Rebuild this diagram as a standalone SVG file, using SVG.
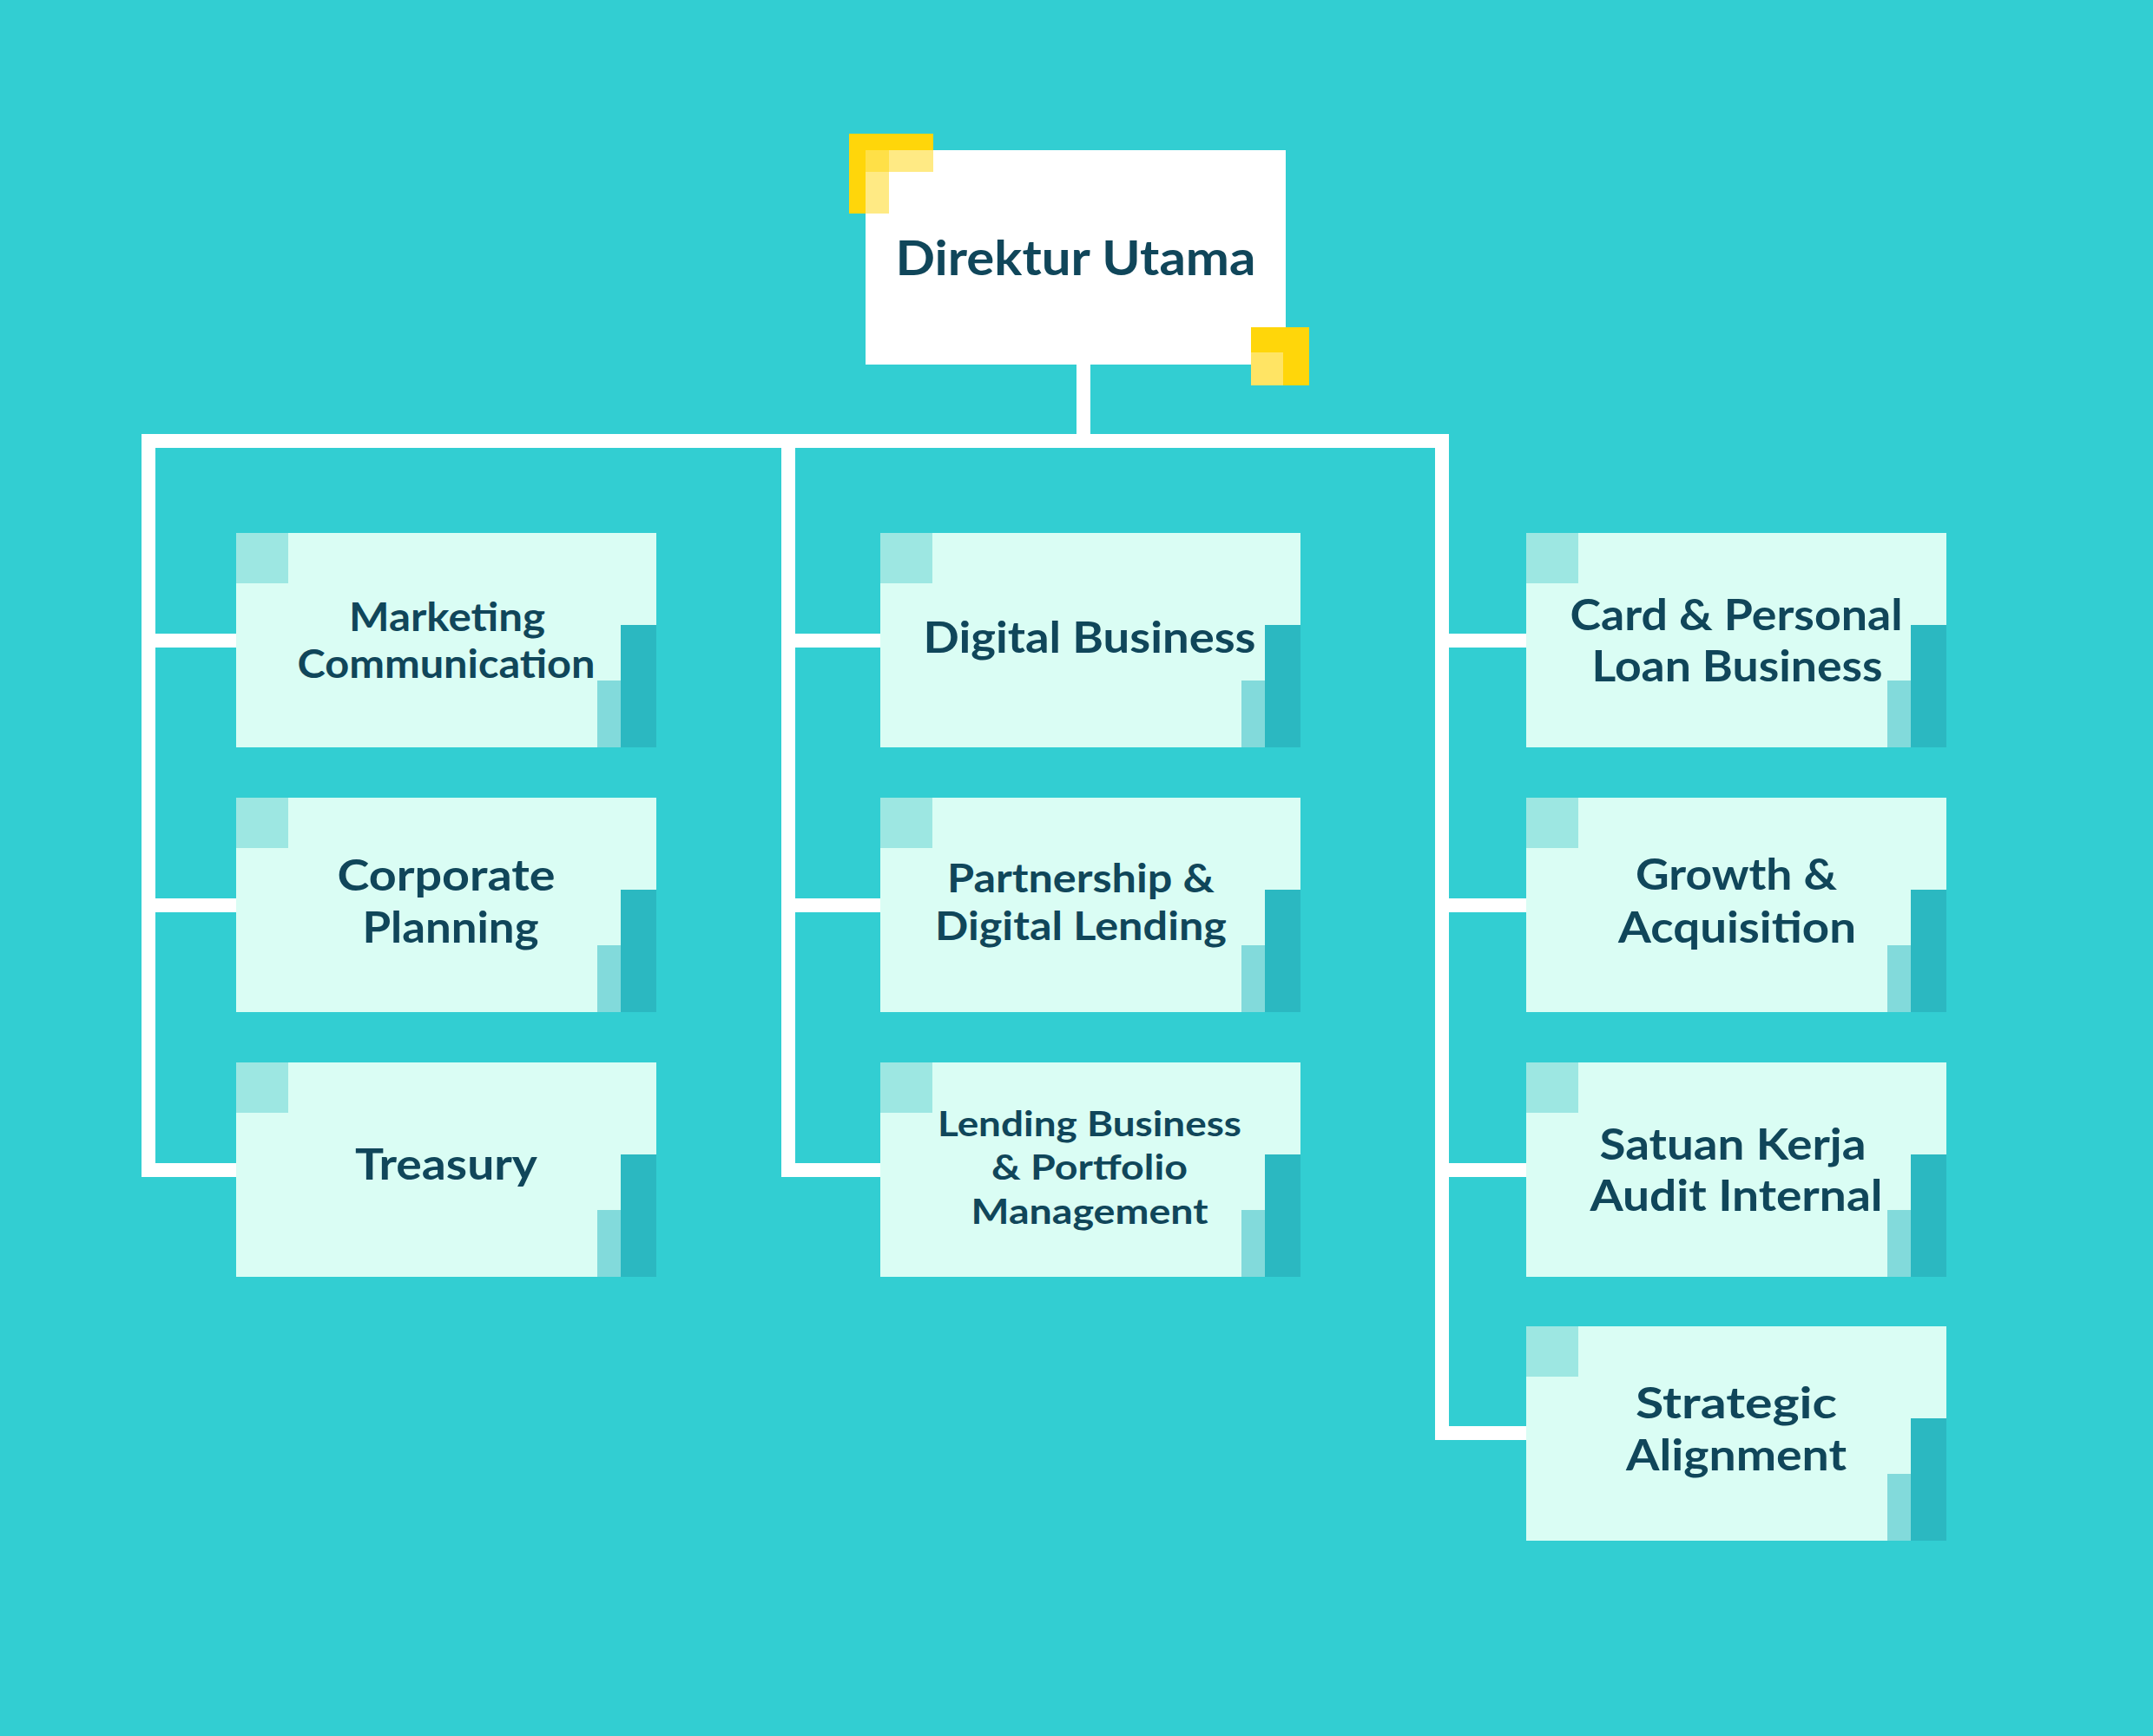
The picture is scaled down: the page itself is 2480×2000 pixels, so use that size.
<svg xmlns="http://www.w3.org/2000/svg" width="2480" height="2000" viewBox="0 0 2480 2000">
<style>
.bg{fill:#32CED2}
.box{fill:#DAFDF4}
.sq{fill:#9DE7E2}
.dk{fill:#2BB8C1}
.lt{fill:#82DADB}
.conn{fill:none;stroke:#FFFFFF;stroke-width:16;stroke-linejoin:miter;stroke-linecap:butt}
.t{font-family:Lato,"Noto Sans","Liberation Sans",sans-serif;font-weight:700;fill:#10465A;text-anchor:middle}
.ty{fill:#FFD60A}
.tyl{fill:#FFD60A;fill-opacity:0.5}
.tyb{fill:#FFE464}
</style>
<defs>
<g id="deco">
<rect class="box" x="0" y="0" width="484" height="247"/>
<rect class="sq" x="0" y="0" width="60" height="58"/>
<rect class="dk" x="443" y="106" width="41" height="141"/>
<rect class="lt" x="416" y="170" width="27" height="77"/>
</g>
</defs>
<rect class="bg" x="0" y="0" width="2480" height="2000"/>

<g id="connectors">
<path class="conn" d="M1248 420 V508"/>
<path class="conn" d="M272 1348 H171 V508 H1661 V1651 H1758"/>
<path class="conn" d="M171 738 H272 M171 1043 H272"/>
<path class="conn" d="M908 508 V1348 H1014 M908 738 H1014 M908 1043 H1014"/>
<path class="conn" d="M1661 738 H1758 M1661 1043 H1758 M1661 1348 H1758"/>
</g>

<g id="direktur-utama">
<rect x="997" y="173" width="484" height="247" fill="#FFFFFF"/>
<rect class="ty" x="978" y="154" width="97" height="19"/>
<rect class="ty" x="978" y="173" width="19" height="73"/>
<rect class="tyl" x="997" y="173" width="78" height="25"/>
<rect class="tyl" x="997" y="173" width="27" height="73"/>
<rect class="ty" x="1441" y="377" width="67" height="67"/>
<rect class="tyb" x="1441" y="406" width="37" height="38"/>
<text class="t" x="1239" y="317" font-size="56" textLength="415" lengthAdjust="spacingAndGlyphs">Direktur Utama</text>
</g>

<g id="marketing-communication">
<use href="#deco" x="272" y="614"/>
<text class="t" x="515" y="727" font-size="45" textLength="226" lengthAdjust="spacingAndGlyphs">Marketing</text>
<text class="t" x="514" y="781" font-size="45" textLength="343" lengthAdjust="spacingAndGlyphs">Communication</text>
</g>
<g id="corporate-planning">
<use href="#deco" x="272" y="919"/>
<text class="t" x="514" y="1026" font-size="50" textLength="251" lengthAdjust="spacingAndGlyphs">Corporate</text>
<text class="t" x="519" y="1086" font-size="50" textLength="203" lengthAdjust="spacingAndGlyphs">Planning</text>
</g>
<g id="treasury">
<use href="#deco" x="272" y="1224"/>
<text class="t" x="514" y="1359" font-size="50" textLength="210" lengthAdjust="spacingAndGlyphs">Treasury</text>
</g>

<g id="digital-business">
<use href="#deco" x="1014" y="614"/>
<text class="t" x="1255" y="752" font-size="50" textLength="383" lengthAdjust="spacingAndGlyphs">Digital Business</text>
</g>
<g id="partnership-digital-lending">
<use href="#deco" x="1014" y="919"/>
<text class="t" x="1245" y="1028" font-size="45" textLength="308" lengthAdjust="spacingAndGlyphs">Partnership &amp;</text>
<text class="t" x="1245" y="1083" font-size="45" textLength="336" lengthAdjust="spacingAndGlyphs">Digital Lending</text>
</g>
<g id="lending-business-portfolio">
<use href="#deco" x="1014" y="1224"/>
<text class="t" x="1255" y="1309" font-size="41" textLength="350" lengthAdjust="spacingAndGlyphs">Lending Business</text>
<text class="t" x="1255" y="1359" font-size="41" textLength="226" lengthAdjust="spacingAndGlyphs">&amp; Portfolio</text>
<text class="t" x="1255" y="1410" font-size="41" textLength="273" lengthAdjust="spacingAndGlyphs">Management</text>
</g>

<g id="card-personal-loan">
<use href="#deco" x="1758" y="614"/>
<text class="t" x="2000" y="726" font-size="50" textLength="383" lengthAdjust="spacingAndGlyphs">Card &amp; Personal</text>
<text class="t" x="2001" y="785" font-size="50" textLength="335" lengthAdjust="spacingAndGlyphs">Loan Business</text>
</g>
<g id="growth-acquisition">
<use href="#deco" x="1758" y="919"/>
<text class="t" x="2000" y="1025" font-size="50" textLength="232" lengthAdjust="spacingAndGlyphs">Growth &amp;</text>
<text class="t" x="2001" y="1086" font-size="50" textLength="274" lengthAdjust="spacingAndGlyphs">Acquisition</text>
</g>
<g id="satuan-kerja-audit">
<use href="#deco" x="1758" y="1224"/>
<text class="t" x="1996" y="1336" font-size="50" textLength="307" lengthAdjust="spacingAndGlyphs">Satuan Kerja</text>
<text class="t" x="2000" y="1395" font-size="50" textLength="337" lengthAdjust="spacingAndGlyphs">Audit Internal</text>
</g>
<g id="strategic-alignment">
<use href="#deco" x="1758" y="1528"/>
<text class="t" x="2000" y="1634" font-size="50" textLength="232" lengthAdjust="spacingAndGlyphs">Strategic</text>
<text class="t" x="2000" y="1694" font-size="50" textLength="254" lengthAdjust="spacingAndGlyphs">Alignment</text>
</g>
</svg>
